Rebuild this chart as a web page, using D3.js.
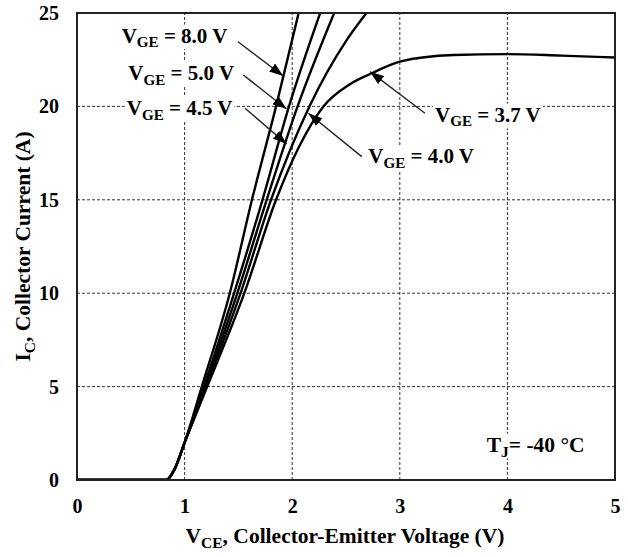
<!DOCTYPE html>
<html>
<head>
<meta charset="utf-8">
<script src="https://cdn.jsdelivr.net/npm/d3@7"></script>
<style>
  html, body { margin: 0; padding: 0; background: #fff; }
  svg { display: block; }
  text { font-family: "Liberation Serif", "Times New Roman", serif; font-weight: bold; fill: #000; }
</style>
</head>
<body>
<svg id="chart" width="628" height="557"></svg>
<script>
// Output characteristics, IC vs VCE at TJ = -40 °C
const vceTicks = [0, 1, 2, 3, 4, 5];
const icTicks = [0, 5, 10, 15, 20, 25];
const vceGrid = [1, 2, 3, 4];
const icGrid = [5, 10, 15, 20];

// [VCE (V), IC (A)] for each gate voltage
const vge80 = [[0, 0], [0.83, 0], [0.9, 0.5], [1.0, 2.0], [1.16, 5], [1.42, 10], [1.626, 15], [1.85, 20], [2.06, 25]];
const vge50 = [[0, 0], [0.83, 0], [0.9, 0.5], [1.0, 2.0], [1.18, 5], [1.46, 10], [1.724, 15], [1.97, 20], [2.26, 25]];
const vge45 = [[0, 0], [0.83, 0], [0.9, 0.5], [1.0, 2.0], [1.19, 5], [1.49, 10], [1.763, 15], [2.05, 20], [2.39, 25]];
const vge40 = [[0, 0], [0.83, 0], [0.9, 0.5], [1.0, 2.0], [1.20, 5], [1.52, 10], [1.803, 15], [2.16, 20], [2.506, 23.55], [2.69, 25]];
const vge37 = [[0, 0], [0.83, 0], [0.9, 0.5], [1.0, 2.0], [1.21, 5], [1.555, 10], [1.85, 15], [2.06, 17.8], [2.29, 20], [2.54, 21.2], [2.75, 21.8], [3.0, 22.4], [3.5, 22.75], [4.0, 22.8], [4.5, 22.72], [5.0, 22.62]];

const seriesList = [vge80, vge50, vge45, vge40, vge37];

// Callouts: label text, label anchor (left/baseline) and arrow tail -> tip, in data units
const calloutValues = ["8.0", "5.0", "4.5", "4.0", "3.7"];
const calloutLabelAt = [[0.415, 23.42], [0.477, 21.41], [0.462, 19.54], [2.707, 16.95], [3.327, 19.18]];
const calloutTail = [[1.496, 23.46], [1.546, 21.68], [1.561, 19.9], [2.646, 17.31], [3.234, 19.63]];
const calloutTip = [[1.917, 21.63], [1.947, 19.86], [1.949, 17.99], [2.15, 19.63], [2.723, 21.86]];
const tempLabelAt = [3.808, 1.51];

const svg = d3.select("#chart");
const x = d3.scaleLinear().domain([0, 5]).range([77, 615]);
const y = d3.scaleLinear().domain([0, 25]).range([480, 13]);

svg.append("defs").append("clipPath").attr("id", "plotClip")
  .append("rect").attr("x", x(0)).attr("y", y(25)).attr("width", x(5) - x(0)).attr("height", y(0) - y(25));

svg.append("marker").attr("id", "arrowHead")
  .attr("viewBox", "0 0 14 10").attr("refX", 14).attr("refY", 5)
  .attr("markerWidth", 14).attr("markerHeight", 10).attr("markerUnits", "userSpaceOnUse")
  .attr("orient", "auto")
  .append("path").attr("d", "M0,0 L14,5 L0,10 Z").attr("fill", "#000");

// dashed grid
const grid = svg.append("g");
grid.selectAll("line.v").data(vceGrid).join("line")
  .attr("x1", d => x(d)).attr("x2", d => x(d)).attr("y1", y(0)).attr("y2", y(25))
  .attr("stroke", "#333").attr("stroke-width", 1).attr("stroke-dasharray", "3,2");
grid.selectAll("line.h").data(icGrid).join("line")
  .attr("y1", d => y(d)).attr("y2", d => y(d)).attr("x1", x(0)).attr("x2", x(5))
  .attr("stroke", "#333").attr("stroke-width", 1).attr("stroke-dasharray", "3,2");

// curves
const line = d3.line().x(d => x(d[0])).y(d => y(d[1])).curve(d3.curveMonotoneX);
svg.append("g").attr("clip-path", "url(#plotClip)")
  .selectAll("path").data(seriesList).join("path")
  .attr("d", line).attr("fill", "none").attr("stroke", "#000").attr("stroke-width", 2.4);

// frame
svg.append("rect").attr("x", x(0)).attr("y", y(25)).attr("width", x(5) - x(0)).attr("height", y(0) - y(25))
  .attr("fill", "none").attr("stroke", "#222").attr("stroke-width", 2);

// axes
const xAxis = svg.append("g").attr("transform", `translate(0,${y(0)})`)
  .call(d3.axisBottom(x).tickValues(vceTicks).tickSize(0).tickPadding(19).tickFormat(d3.format("d")));
const yAxis = svg.append("g").attr("transform", `translate(${x(0)},0)`)
  .call(d3.axisLeft(y).tickValues(icTicks).tickSize(0).tickPadding(18).tickFormat(d3.format("d")));
[xAxis, yAxis].forEach(a => {
  a.select(".domain").remove();
  a.selectAll("text").attr("font-size", 20).attr("font-family", null).attr("fill", "#000");
});

// text helper with subscript
function subText(g, main, sub, rest, size) {
  const t = g.append("text").attr("font-size", size);
  t.append("tspan").text(main);
  t.append("tspan").text(sub).attr("font-size", size * 0.72).attr("dy", size * 0.22);
  t.append("tspan").text(rest).attr("dy", -size * 0.22);
  return t;
}

function withBackground(g, t) {
  const b = t.node().getBBox();
  g.insert("rect", "text").attr("x", b.x - 2).attr("y", b.y + 1).attr("width", b.width + 4).attr("height", b.height - 2)
    .attr("fill", "#fff");
}

// callouts
calloutValues.forEach((v, i) => {
  const g = svg.append("g");
  const t = subText(g, "V", "GE", ` = ${v} V`, 21)
    .attr("x", x(calloutLabelAt[i][0])).attr("y", y(calloutLabelAt[i][1]));
  withBackground(g, t);
  svg.append("line")
    .attr("x1", x(calloutTail[i][0])).attr("y1", y(calloutTail[i][1]))
    .attr("x2", x(calloutTip[i][0])).attr("y2", y(calloutTip[i][1]))
    .attr("stroke", "#222").attr("stroke-width", 1.4).attr("marker-end", "url(#arrowHead)");
});

// junction temperature
{
  const g = svg.append("g");
  const t = subText(g, "T", "J", "= -40 °C", 21.5)
    .attr("x", x(tempLabelAt[0])).attr("y", y(tempLabelAt[1]));
  withBackground(g, t);
}

// axis titles
subText(svg, "V", "CE", ", Collector-Emitter Voltage (V)", 21.5)
  .attr("x", 345).attr("y", 543).attr("text-anchor", "middle");
subText(svg, "I", "C", ", Collector Current (A)", 21.5)
  .attr("transform", `translate(30,${(y(0) + y(25)) / 2}) rotate(-90)`).attr("text-anchor", "middle");
</script>
</body>
</html>
